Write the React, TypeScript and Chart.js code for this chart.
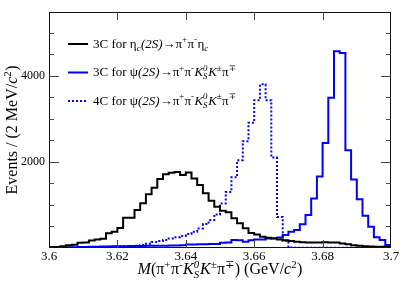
import React, { useEffect, useRef } from 'react';
import { Chart, registerables } from 'chart.js';

Chart.register(...registerables);

// ---- data ----
const X_MIN = 3.6;
const X_MAX = 3.7;
const N_BINS = 60;
const Y_MAX = 5480;

const xTickValues = [3.6, 3.62, 3.64, 3.66, 3.68, 3.7];
const xTickLabels = ['3.6', '3.62', '3.64', '3.66', '3.68', '3.7'];
const yTickValues = [0, 500, 1000, 1500, 2000, 2500, 3000, 3500, 4000, 4500, 5000];
const yLabelledTicks = [2000, 4000];

const legendLabels = [
  '3C for ηc(2S)→π+π-ηc',
  '3C for ψ(2S)→π+π-KS0K±π∓',
  '4C for ψ(2S)→π+π-KS0K±π∓',
];

const etacCounts = [
  15, 25, 40, 65, 75, 120, 125, 175, 200, 215,
  340, 380, 465, 700, 705, 880, 1040, 1250, 1400, 1600,
  1710, 1750, 1765, 1695, 1755, 1615, 1460, 1270, 1100, 960,
  865, 830, 690, 575, 460, 350, 315, 260, 240, 220,
  200, 180, 160, 145, 135, 130, 125, 130, 135, 130,
  125, 105, 85, 65, 50, 40, 35, 30, 30, 25,
];

const psi3CCounts = [
  15, 15, 18, 20, 20, 22, 25, 28, 30, 32,
  35, 38, 40, 42, 45, 45, 48, 50, 50, 52,
  55, 58, 60, 65, 80, 82, 85, 88, 90, 95,
  120, 125, 185, 180, 145, 180, 195, 200, 220, 225,
  245, 300, 380, 420, 550, 765, 1150, 1660, 2440, 3490,
  4570, 4530, 2270, 1590, 1130, 750, 495, 250, 185, 70,
];

const psi4CCounts = [
  5, 5, 5, 8, 10, 12, 15, 18, 20, 25,
  30, 35, 40, 45, 48, 50, 70, 100, 140, 160,
  185, 220, 250, 280, 325, 380, 455, 555, 650, 780,
  1035, 1300, 1640, 2040, 2480, 2910, 3430, 3800, 3430, 2100,
  720, 170, 10, 5, 5, 5, 5, 5, 5, 5,
  5, 5, 5, 5, 5, 5, 5, 5, 5, 5,
];

// ---- helpers ----
function toSteps(counts: number[]) {
  const w = (X_MAX - X_MIN) / N_BINS;
  const pts = counts.map((c, i) => ({ x: X_MIN + i * w, y: c }));
  pts.push({ x: X_MAX, y: counts[counts.length - 1] });
  return pts;
}

const FAMILY = '"Liberation Serif", "Times New Roman", "DejaVu Serif", serif';
function fnt(size: number, italic: boolean) {
  return `${italic ? 'italic ' : ''}${size}px ${FAMILY}`;
}

type Seg = [string, string];

function segWidth(ctx: CanvasRenderingContext2D, s: Seg, size: number) {
  const [t, k] = s;
  const small = size * 0.68;
  if (k === 'st') {
    const [a, b] = t.split('|');
    ctx.font = fnt(small, true);
    return Math.max(ctx.measureText(a).width, ctx.measureText(b).width) + size * 0.05;
  }
  if (k === 'p' || k === 'pi' || k === 'b' || k === 'bi') {
    ctx.font = fnt(small, k === 'pi' || k === 'bi');
    return ctx.measureText(t).width + size * 0.03;
  }
  ctx.font = fnt(size, k === 'i');
  return ctx.measureText(t).width;
}

function richWidth(ctx: CanvasRenderingContext2D, segs: Seg[], size: number) {
  return segs.reduce((w, s) => w + segWidth(ctx, s, size), 0);
}

function drawRich(ctx: CanvasRenderingContext2D, segs: Seg[], x: number, y: number, size: number) {
  ctx.textBaseline = 'alphabetic';
  ctx.textAlign = 'left';
  let cx = x;
  const small = size * 0.68;
  for (const s of segs) {
    const [t, k] = s;
    const w = segWidth(ctx, s, size);
    if (k === 'st') {
      const [a, b] = t.split('|');
      ctx.font = fnt(small, true);
      ctx.fillText(a, cx, y + size * 0.24);
      ctx.fillText(b, cx, y - size * 0.4);
    } else if (k === 'p' || k === 'pi') {
      ctx.font = fnt(small, k === 'pi');
      ctx.fillText(t, cx, y - size * 0.4);
    } else if (k === 'b' || k === 'bi') {
      ctx.font = fnt(small, k === 'bi');
      ctx.fillText(t, cx, y + size * 0.24);
    } else {
      ctx.font = fnt(size, k === 'i');
      ctx.fillText(t, cx, y);
    }
    cx += w;
  }
}

const legendRich: Seg[][] = [
  [['3C for ', 'n'], ['η', 'n'], ['c', 'bi'], ['(2S)', 'i'], ['→', 'n'], ['π', 'n'], ['+', 'p'], ['π', 'n'], ['-', 'p'], ['η', 'n'], ['c', 'bi']],
  [['3C for ', 'n'], ['ψ', 'n'], ['(2S)', 'i'], ['→', 'n'], ['π', 'n'], ['+', 'p'], ['π', 'n'], ['-', 'p'], ['K', 'i'], ['S|0', 'st'], ['K', 'i'], ['±', 'p'], ['π', 'n'], ['∓', 'p']],
  [['4C for ', 'n'], ['ψ', 'n'], ['(2S)', 'i'], ['→', 'n'], ['π', 'n'], ['+', 'p'], ['π', 'n'], ['-', 'p'], ['K', 'i'], ['S|0', 'st'], ['K', 'i'], ['±', 'p'], ['π', 'n'], ['∓', 'p']],
];

const xTitle: Seg[] = [['M', 'i'], ['(π', 'n'], ['+', 'p'], ['π', 'n'], ['-', 'p'], ['K', 'i'], ['S|0', 'st'], ['K', 'i'], ['±', 'p'], ['π', 'n'], ['∓', 'p'], [') (GeV/', 'n'], ['c', 'i'], ['2', 'p'], [')', 'n']];
const yTitle: Seg[] = [['Events / (2 MeV/', 'n'], ['c', 'i'], ['2', 'p'], [')', 'n']];

const decorPlugin = {
  id: 'decor',
  afterDraw(chart: any) {
    const { ctx, chartArea: a, scales } = chart;
    ctx.save();
    // frame
    ctx.strokeStyle = '#111';
    ctx.lineWidth = 1;
    ctx.strokeRect(a.left + 0.5, a.top + 0.5, a.right - a.left - 1, a.bottom - a.top - 1);
    // y ticks (inside, both sides)
    ctx.strokeStyle = '#444';
    const ys = scales.y;
    for (const t of ys.ticks) {
      const v = t.value;
      if (v <= 0 || v >= Y_MAX) continue;
      const py = Math.round(ys.getPixelForValue(v)) + 0.5;
      const len = yLabelledTicks.includes(v) ? 10 : 5;
      ctx.beginPath();
      ctx.moveTo(a.left, py); ctx.lineTo(a.left + len, py);
      ctx.moveTo(a.right, py); ctx.lineTo(a.right - len, py);
      ctx.stroke();
    }
    // x ticks
    const xs = scales.x;
    for (const t of xs.ticks) {
      const v = t.value;
      if (v <= X_MIN + 1e-9 || v >= X_MAX - 1e-9) continue;
      const px = Math.round(xs.getPixelForValue(v)) + 0.5;
      ctx.beginPath();
      ctx.moveTo(px, a.bottom); ctx.lineTo(px, a.bottom - 8);
      ctx.moveTo(px, a.top); ctx.lineTo(px, a.top + 8);
      ctx.stroke();
    }
    // legend
    const ds = chart.data.datasets;
    const rowY = [44, 72.5, 101];
    const lsize = 13;
    ctx.fillStyle = '#000';
    for (let i = 0; i < 3; i++) {
      const d = ds[i];
      ctx.strokeStyle = d.borderColor;
      ctx.lineWidth = 2;
      ctx.setLineDash(d.borderDash || []);
      ctx.beginPath();
      ctx.moveTo(68, rowY[i]);
      ctx.lineTo(88, rowY[i]);
      ctx.stroke();
      ctx.setLineDash([]);
      drawRich(ctx, legendRich[i], 93, rowY[i] + 3.5, lsize);
    }
    // axis titles
    const tsize = 16;
    const xw = richWidth(ctx, xTitle, tsize);
    drawRich(ctx, xTitle, (a.left + a.right) / 2 - xw / 2, 274, tsize);
    const yw = richWidth(ctx, yTitle, tsize);
    ctx.translate(17, (a.top + a.bottom) / 2);
    ctx.rotate(-Math.PI / 2);
    drawRich(ctx, yTitle, -yw / 2, 0, tsize);
    ctx.restore();
  },
};

export default function App() {
  const ref = useRef<HTMLCanvasElement | null>(null);
  useEffect(() => {
    if (!ref.current) return;
    const chart = new Chart(ref.current, {
      type: 'line',
      data: {
        datasets: [
          { label: legendLabels[0], data: toSteps(etacCounts), borderColor: '#000000', borderWidth: 2, stepped: true, pointRadius: 0, fill: false },
          { label: legendLabels[1], data: toSteps(psi3CCounts), borderColor: '#0000ff', borderWidth: 2, stepped: true, pointRadius: 0, fill: false },
          { label: legendLabels[2], data: toSteps(psi4CCounts), borderColor: '#0000ff', borderWidth: 2, borderDash: [2, 2], stepped: true, pointRadius: 0, fill: false },
        ] as any,
      },
      options: {
        animation: false,
        responsive: false,
        devicePixelRatio: 1,
        layout: { padding: { top: 12, right: 16, left: 0, bottom: 0 } },
        plugins: { legend: { display: false }, tooltip: { enabled: false } },
        scales: {
          x: {
            type: 'linear',
            min: X_MIN,
            max: X_MAX,
            grid: { display: false, drawTicks: false },
            border: { display: false },
            afterBuildTicks: (s: any) => { s.ticks = xTickValues.map((v) => ({ value: v })); },
            ticks: {
              autoSkip: false,
              maxRotation: 0,
              padding: 1,
              color: '#000',
              font: { family: FAMILY, size: 13 },
              callback: (v: any, i: number) => xTickLabels[i],
            },
            afterFit: (s: any) => { s.height = 44; },
          },
          y: {
            type: 'linear',
            min: 0,
            max: Y_MAX,
            grid: { display: false, drawTicks: false },
            border: { display: false },
            afterBuildTicks: (s: any) => { s.ticks = yTickValues.map((v) => ({ value: v })); },
            ticks: {
              autoSkip: false,
              padding: 4,
              color: '#000',
              font: { family: FAMILY, size: 12 },
              callback: (v: any) => (yLabelledTicks.includes(Number(v)) ? String(v) : ''),
            },
            afterFit: (s: any) => { s.width = 49; },
          },
        },
      } as any,
      plugins: [decorPlugin],
    });
    return () => chart.destroy();
  }, []);
  return (
    <div style={{ position: 'absolute', left: 0, top: 0, width: 407, height: 292, background: '#fff' }}>
      <canvas ref={ref} width={407} height={292} style={{ display: 'block' }} />
    </div>
  );
}
